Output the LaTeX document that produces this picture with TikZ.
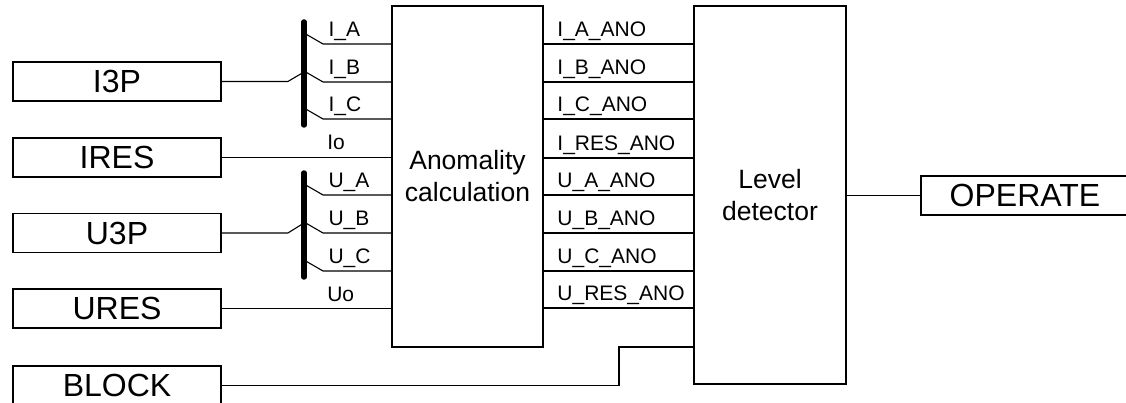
\documentclass[tikz,border=0pt]{standalone}
\usepackage{fontspec}
\setmainfont{Liberation Sans}
\begin{document}
\begin{tikzpicture}[x=1pt,y=-1pt,line width=1.1pt,every node/.style={font=\fontsize{21}{24}\selectfont,align=center},senal/.style={draw,line width=1.8pt,minimum width=208pt,minimum height=39pt,inner sep=0pt,font=\fontsize{32}{34}\selectfont},funcion/.style={draw,line width=1.8pt,inner sep=0pt,font=\fontsize{26.5}{32}\selectfont},etq/.style={pos=0,anchor=base west,inner sep=0pt,xshift=5pt,yshift=7.5pt},bus/.style={line width=5.5pt,line cap=round}]
\useasboundingbox (0,0) rectangle (1126,403);
\node[senal] (i3p) at (117,81.5) {I3P};
\node[senal] (ires) at (117,157.5) {IRES};
\node[senal] (u3p) at (117,233) {U3P};
\node[senal] (ures) at (117,308.5) {URES};
\node[senal] (blk) at (117,385.5) {BLOCK};
\node[funcion,minimum width=151pt,minimum height=341pt] (ano) at (467.5,176.5) {Anomality\\calculation};
\node[funcion,minimum width=152pt,minimum height=378pt] (lev) at (770,195) {Level\\detector};
\node[senal] (op) at (1025,195.5) {OPERATE};
\coordinate (ib) at (304,72); \coordinate (ub) at (304,223);
\draw[bus] (304,22) -- (304,125); \draw[bus] (304,173) -- (304,277);
\draw (i3p.east) -- ++(66,0) -- (ib); \draw (u3p.east) -- ++(66,0) -- (ub);
\draw (304,33) -- ++(19,11) -- node[etq]{I\_A} (ano.west |- 0,44);
\draw (304,71) -- ++(19,11) -- node[etq]{I\_B} (ano.west |- 0,82);
\draw (304,108) -- ++(19,11) -- node[etq]{I\_C} (ano.west |- 0,119);
\draw (ires) -- node[etq,pos=0.59]{Io} (ano.west |- ires);
\draw (304,184) -- ++(19,11) -- node[etq]{U\_A} (ano.west |- 0,195);
\draw (304,222) -- ++(19,11) -- node[etq]{U\_B} (ano.west |- 0,233);
\draw (304,260) -- ++(19,11) -- node[etq]{U\_C} (ano.west |- 0,271);
\draw (ures) -- node[etq,pos=0.59]{Uo} (ano.west |- ures);
\draw (ano.east |- 0,44) -- node[etq,xshift=8pt]{I\_A\_ANO} (lev.west |- 0,44);
\draw (ano.east |- 0,82) -- node[etq,xshift=8pt]{I\_B\_ANO} (lev.west |- 0,82);
\draw (ano.east |- 0,119) -- node[etq,xshift=8pt]{I\_C\_ANO} (lev.west |- 0,119);
\draw (ano.east |- 0,158) -- node[etq,xshift=8pt]{I\_RES\_ANO} (lev.west |- 0,158);
\draw (ano.east |- 0,195) -- node[etq,xshift=8pt]{U\_A\_ANO} (lev.west |- 0,195);
\draw (ano.east |- 0,233) -- node[etq,xshift=8pt]{U\_B\_ANO} (lev.west |- 0,233);
\draw (ano.east |- 0,271) -- node[etq,xshift=8pt]{U\_C\_ANO} (lev.west |- 0,271);
\draw (ano.east |- 0,308) -- node[etq,xshift=8pt]{U\_RES\_ANO} (lev.west |- 0,308);
\draw (blk.east) -| (619,347) -- (lev.west |- 0,347);
\draw (lev.east |- op) -- (op);
\end{tikzpicture}
\end{document}
